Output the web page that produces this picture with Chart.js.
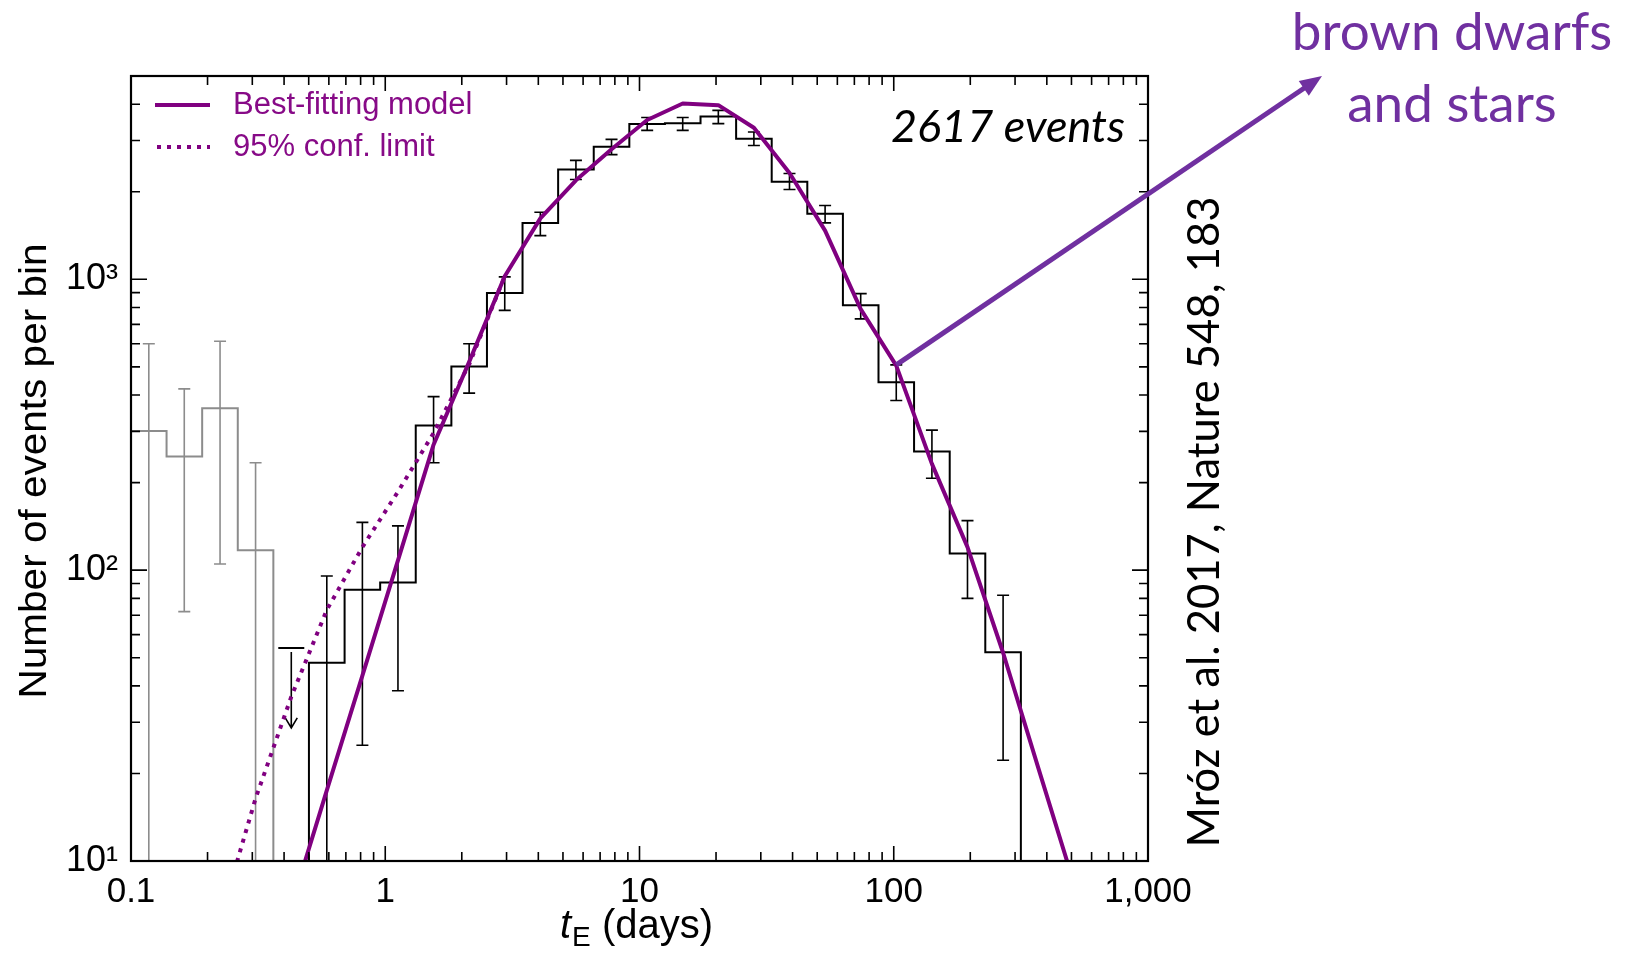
<!DOCTYPE html>
<html>
<head>
<meta charset="utf-8">
<title>tE distribution</title>
<script src="https://cdn.jsdelivr.net/npm/chart.js@4.4.0/dist/chart.umd.min.js"></script>
<style>
  html, body { margin: 0; padding: 0; background: #ffffff; }
  #wrap { width: 1636px; height: 953px; }
</style>
</head>
<body>
<div id="wrap"><canvas id="grafico" width="1636" height="953"></canvas></div>
<script>
/* histogram of event timescales */

// bin edges and centres (days)
var binEdges = [0.1, 0.138, 0.1905, 0.263, 0.363, 0.501, 0.692, 0.955, 1.318, 1.820, 2.512, 3.467, 4.786,
                6.607, 9.120, 12.59, 17.38, 23.99, 33.11, 45.71, 63.10, 87.10, 120.2, 166.0, 229.1, 316.2];
var binCenters = [0.1175, 0.162, 0.224, 0.309, 0.427, 0.589, 0.813, 1.122, 1.549, 2.138, 2.951, 4.074, 5.623,
                  7.762, 10.72, 14.79, 20.42, 28.18, 38.90, 53.70, 74.13, 102.3, 141.3, 195.0, 269.2, 371.5, 512.9];

// grey bins 0-3, black bins 5-24 (bin 4 is only an upper limit)
var greyCounts = [301, 246, 360, 117];
var blackCounts = [48, 85.6, 90.6, 314, 501, 898, 1563, 2386, 2855, 3420, 3440, 3630, 3042, 2163, 1679,
                   815, 443, 256, 114, 52.2];
var upperLimitBin = 4;
var upperLimitValue = 54;
var upperLimitArrowTo = 28.7;

// error bars per bin (1 = runs off the bottom of the plot)
var errLow  = [1, 72, 105, 1, null, 1, 25, 38.5, 234, 406, 782, 1413, 2204, 2684, 3250, 3250, 3430, 2884,
               2036, 1563, 731, 383, 207, 80, 22.2];
var errHigh = [600, 420, 612, 234, null, 95.5, 146, 142, 395, 600, 1019, 1701, 2564, 3027, 3600, 3600, 3810,
               3210, 2310, 1793, 893, 508, 303, 148, 82];

// best-fitting model, sampled at bin centres 4..26
var modelY = [7.0, 17.5, 43.4, 108, 270, 520, 1025, 1620, 2190, 2800, 3530, 4020, 3970, 3320, 2320, 1470,
              790, 505, 232, 120, 52, 20.7, 8.3];
// 95% confidence limit, bin centres 2..10
var confY = [6.3, 16.4, 36.7, 73, 120, 186, 296, 510, 1025];

var xTicks = [0.1, 1, 10, 100, 1000];
var xTickLabels = ["0.1", "1", "10", "100", "1,000"];
var yTicks = [10, 100, 1000];
var yTickLabels = ["10\u00b9", "10\u00b2", "10\u00b3"];

var purple = "#800080";
var legendPurple = "#870a87";
var notePurple = "#7030A0";
var dots = [4, 6];

// build the point lists
var modelPts = [];
for (var i = 0; i < modelY.length; i++) {
  modelPts.push({ x: binCenters[i + 4], y: modelY[i] });
}
var confPts = [];
for (var i = 0; i < confY.length; i++) {
  confPts.push({ x: binCenters[i + 2], y: confY[i] });
}
var greyPts = [];
for (var i = 0; i < greyCounts.length; i++) {
  greyPts.push({ x: binEdges[i], y: greyCounts[i] });
}
greyPts.push({ x: binEdges[greyCounts.length], y: 1 });

var blackPts = [{ x: binEdges[5], y: 1 }];
for (var i = 0; i < blackCounts.length; i++) {
  blackPts.push({ x: binEdges[i + 5], y: blackCounts[i] });
}
blackPts.push({ x: binEdges[5 + blackCounts.length], y: 1 });

// minor ticks
var xMinor = [];
var yMinor = [];
[0.1, 1, 10, 100].forEach(function (d) {
  for (var m = 2; m <= 9; m++) xMinor.push(d * m);
});
[10, 100, 1000].forEach(function (d) {
  for (var m = 2; m <= 9; m++) if (d * m < 5000) yMinor.push(d * m);
});

// error bars + upper limit, under the lines
var errorBars = {
  id: "errorBars",
  beforeDatasetsDraw: function (chart) {
    var ctx = chart.ctx, a = chart.chartArea;
    var sx = chart.scales.x, sy = chart.scales.y;
    ctx.save();
    ctx.beginPath();
    ctx.rect(a.left, a.top, a.right - a.left, a.bottom - a.top);
    ctx.clip();
    ctx.lineWidth = 1.6;
    for (var k = 0; k < errLow.length; k++) {
      if (errLow[k] == null) continue;
      var x = sx.getPixelForValue(binCenters[k]);
      var y1 = sy.getPixelForValue(errLow[k]);
      var y2 = sy.getPixelForValue(errHigh[k]);
      ctx.strokeStyle = k < 4 ? "#8c8c8c" : "#000000";
      ctx.beginPath();
      ctx.moveTo(x, y1); ctx.lineTo(x, y2);
      ctx.moveTo(x - 6, y2); ctx.lineTo(x + 6, y2);
      if (errLow[k] > 1) { ctx.moveTo(x - 6, y1); ctx.lineTo(x + 6, y1); }
      ctx.stroke();
    }
    // upper limit on the empty bin
    var ux = sx.getPixelForValue(binCenters[upperLimitBin]);
    var uy = sy.getPixelForValue(upperLimitValue);
    var ay = sy.getPixelForValue(upperLimitArrowTo);
    ctx.strokeStyle = "#000";
    ctx.lineWidth = 2;
    ctx.beginPath();
    ctx.moveTo(ux - 13, uy); ctx.lineTo(ux + 13, uy);
    ctx.stroke();
    ctx.lineWidth = 1.6;
    ctx.beginPath();
    ctx.moveTo(ux, uy + 4); ctx.lineTo(ux, ay);
    ctx.moveTo(ux - 6, ay - 10); ctx.lineTo(ux, ay); ctx.lineTo(ux + 6, ay - 10);
    ctx.stroke();
    ctx.restore();
  }
};

// frame with inward ticks
var frame = {
  id: "frame",
  afterDatasetsDraw: function (chart) {
    var ctx = chart.ctx, a = chart.chartArea;
    var sx = chart.scales.x, sy = chart.scales.y;
    ctx.save();
    ctx.strokeStyle = "#000";
    ctx.lineWidth = 1.6;
    ctx.beginPath();
    function xt(v, len) {
      var p = sx.getPixelForValue(v);
      ctx.moveTo(p, a.bottom); ctx.lineTo(p, a.bottom - len);
      ctx.moveTo(p, a.top); ctx.lineTo(p, a.top + len);
    }
    function yt(v, len) {
      var p = sy.getPixelForValue(v);
      ctx.moveTo(a.left, p); ctx.lineTo(a.left + len, p);
      ctx.moveTo(a.right, p); ctx.lineTo(a.right - len, p);
    }
    xMinor.forEach(function (v) { xt(v, 9); });
    xTicks.forEach(function (v) { if (v > 0.1 && v < 1000) xt(v, 15); });
    yMinor.forEach(function (v) { yt(v, 9); });
    yTicks.forEach(function (v) { if (v > 10) yt(v, 16); });
    ctx.stroke();
    ctx.lineWidth = 2.2;
    ctx.strokeRect(a.left, a.top, a.right - a.left, a.bottom - a.top);
    ctx.restore();
  }
};

// legend, titles and notes
var texts = {
  id: "texts",
  afterDraw: function (chart) {
    var ctx = chart.ctx;
    var sx = chart.scales.x, sy = chart.scales.y;
    ctx.save();

    // legend
    ctx.strokeStyle = purple;
    ctx.lineWidth = 4;
    ctx.beginPath(); ctx.moveTo(155, 105); ctx.lineTo(210, 105); ctx.stroke();
    ctx.setLineDash(dots);
    ctx.beginPath(); ctx.moveTo(157, 147); ctx.lineTo(210, 147); ctx.stroke();
    ctx.setLineDash([]);
    ctx.fillStyle = legendPurple;
    ctx.font = '31px "Liberation Sans"';
    ctx.textAlign = "left";
    ctx.textBaseline = "alphabetic";
    ctx.fillText("Best-fitting model", 233, 114);
    ctx.fillText("95% conf. limit", 233, 156);

    // event count
    ctx.fillStyle = "#000";
    ctx.font = 'italic 45px Lato';
    ctx.textAlign = "right";
    ctx.fillText("2617 events", 1125, 142);

    // y title, stretched a little along its length
    ctx.save();
    ctx.translate(46, 471);
    ctx.rotate(-Math.PI / 2);
    ctx.font = '38px "Liberation Sans"';
    var yt = "Number of events per bin";
    var w = ctx.measureText(yt).width;
    ctx.scale(455 / w, 1);
    ctx.textAlign = "center";
    ctx.fillText(yt, 0, 0);
    ctx.restore();

    // x title: t_E (days)
    ctx.textAlign = "left";
    var fT = 'italic 40px "Liberation Sans"';
    var fS = '28px "Liberation Sans"';
    var fN = '40px "Liberation Sans"';
    ctx.font = fT; var w1 = ctx.measureText("t").width;
    ctx.font = fS; var w2 = ctx.measureText("E").width;
    ctx.font = fN; var w3 = ctx.measureText(" (days)").width;
    var x0 = 636 - (w1 + w2 + w3) / 2;
    var base = 938;
    ctx.font = fT; ctx.fillText("t", x0, base);
    ctx.font = fS; ctx.fillText("E", x0 + w1 + 1, base + 8);
    ctx.font = fN; ctx.fillText(" (days)", x0 + w1 + w2 + 1, base);

    // citation
    ctx.save();
    ctx.translate(1219, 522);
    ctx.rotate(-Math.PI / 2);
    ctx.font = '45px Lato';
    ctx.textAlign = "center";
    ctx.fillText("Mróz et al. 2017, Nature 548, 183", 0, 0, 651);
    ctx.restore();

    // arrow to the long-timescale tail
    var x1 = sx.getPixelForValue(102.3), y1 = sy.getPixelForValue(508);
    var x2 = 1322, y2 = 76;
    var ang = Math.atan2(y2 - y1, x2 - x1);
    ctx.strokeStyle = notePurple;
    ctx.fillStyle = notePurple;
    ctx.lineWidth = 5;
    ctx.beginPath();
    ctx.moveTo(x1, y1);
    ctx.lineTo(x2 - 16 * Math.cos(ang), y2 - 16 * Math.sin(ang));
    ctx.stroke();
    ctx.beginPath();
    ctx.moveTo(x2, y2);
    ctx.lineTo(x2 - 22 * Math.cos(ang) + 9 * Math.sin(ang), y2 - 22 * Math.sin(ang) - 9 * Math.cos(ang));
    ctx.lineTo(x2 - 22 * Math.cos(ang) - 9 * Math.sin(ang), y2 - 22 * Math.sin(ang) + 9 * Math.cos(ang));
    ctx.closePath();
    ctx.fill();

    ctx.font = '53px Lato';
    ctx.textAlign = "center";
    ctx.fillText("brown dwarfs", 1452, 50);
    ctx.fillText("and stars", 1452, 122);

    ctx.restore();
  }
};

Chart.defaults.font.family = '"Liberation Sans", Arial, sans-serif';
Chart.defaults.color = "#000";

var chartHist = new Chart(document.getElementById("grafico"), {
  type: "line",
  data: {
    datasets: [
      { label: "Best-fitting model", data: modelPts, borderColor: purple, borderWidth: 4,
        pointRadius: 0, tension: 0, clip: 0, borderJoinStyle: "round" },
      { label: "95% conf. limit", data: confPts, borderColor: purple, borderWidth: 4,
        borderDash: dots, pointRadius: 0, tension: 0, clip: 0 },
      { label: "events", data: blackPts, stepped: "before", borderColor: "#000", borderWidth: 2,
        pointRadius: 0, clip: 0, borderJoinStyle: "miter" },
      { label: "short events", data: greyPts, stepped: "before", borderColor: "#8c8c8c", borderWidth: 2,
        pointRadius: 0, clip: 0, borderJoinStyle: "miter" }
    ]
  },
  options: {
    responsive: false,
    animation: false,
    events: [],
    layout: { padding: { top: 76, right: 488, left: 0, bottom: 0 } },
    plugins: { legend: { display: false }, tooltip: { enabled: false } },
    scales: {
      x: {
        type: "logarithmic", min: 0.1, max: 1000,
        grid: { display: false, drawTicks: false },
        border: { display: false },
        afterBuildTicks: function (s) { s.ticks = xTicks.map(function (v) { return { value: v }; }); },
        afterFit: function (s) { s.height = 92; },
        ticks: {
          autoSkip: false, maxRotation: 0, padding: 10, font: { size: 35 },
          callback: function (v) { var i = xTicks.indexOf(v); return i >= 0 ? xTickLabels[i] : ""; }
        }
      },
      y: {
        type: "logarithmic", min: 10, max: 5000,
        grid: { display: false, drawTicks: false },
        border: { display: false },
        afterBuildTicks: function (s) { s.ticks = yTicks.map(function (v) { return { value: v }; }); },
        afterFit: function (s) { s.width = 131; },
        ticks: {
          autoSkip: false, padding: 13, font: { size: 36 },
          callback: function (v) { var i = yTicks.indexOf(v); return i >= 0 ? yTickLabels[i] : ""; }
        }
      }
    }
  },
  plugins: [errorBars, frame, texts]
});
</script>
</body>
</html>
